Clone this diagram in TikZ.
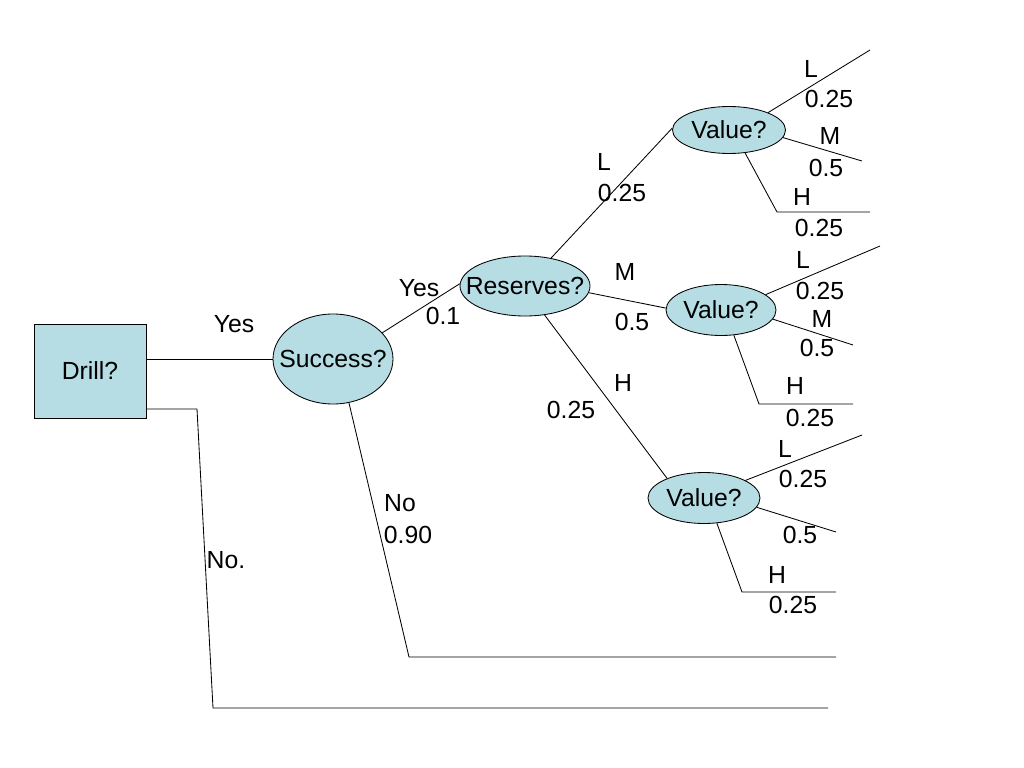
\documentclass[tikz,border=0pt]{standalone}
\usepackage{fontspec}
\setmainfont{Liberation Sans}
\usetikzlibrary{shapes.geometric}
\definecolor{nodefill}{RGB}{182,221,227}

\begin{document}
\begin{tikzpicture}[x=0.025cm,y=-0.025cm,line width=0.6pt,font=\fontsize{17.6}{20}\selectfont]
\tikzstyle{d}=[rectangle,draw,fill=nodefill,minimum width=112*0.025cm,minimum height=94*0.025cm,inner sep=0]
\tikzstyle{c}=[ellipse,draw,fill=nodefill,inner sep=0]
\tikzstyle{t}=[inner sep=0]
\useasboundingbox (0,0) rectangle (1024,768);

    \node[d] (drill) at (90,371){Drill?};
    \node[c, minimum width=120*0.025cm, minimum height=90*0.025cm] (succ) at (333,359){\makebox[0pt]{Success?}};
    \node[c, minimum width=130*0.025cm, minimum height=60*0.025cm] (res) at (525,286){\makebox[0pt]{Reserves?}};
    \node[c, minimum width=113*0.025cm, minimum height=47*0.025cm] (v1) at (729,130){\makebox[0pt]{Value?}};
    \node[c, minimum width=110*0.025cm, minimum height=51*0.025cm] (v2) at (721,310){\makebox[0pt]{Value?}};
    \node[c, minimum width=112*0.025cm, minimum height=51*0.025cm] (v3) at (704,498){\makebox[0pt]{Value?}};

    % free ends
    \coordinate (d1) at (197,409);
    \coordinate (d2) at (213,708);
    \coordinate (d3) at (828,708);
    \coordinate (s1) at (409,657);
    \coordinate (s2) at (836,657);
    \coordinate (v1L) at (870,50);
    \coordinate (v1M) at (862,161);
    \coordinate (v1H) at (777,212);
    \coordinate (v1E) at (870,212);
    \coordinate (v2L) at (880,246);
    \coordinate (v2M) at (853,345);
    \coordinate (v2H) at (759,404);
    \coordinate (v2E) at (853,404);
    \coordinate (v3L) at (862,435);
    \coordinate (v3M) at (836,532);
    \coordinate (v3H) at (742,592);
    \coordinate (v3E) at (836,592);

    \draw (succ.west -| drill.east) -- (succ.west);
    \draw (d1 -| drill.east) -- (d1) -- (d2) -- (d3);
    \draw (succ.290) -- (s1) -- (s2);
    \draw (succ.28) -- (res.178);
    \draw (res.47) -- (v1.178);
    \draw (res.354) -- (v2.178);
    \draw (res.304) -- (v3.152);

    \draw (v1.24) -- (v1L);
    \draw (v1.352) -- (v1M);
    \draw (v1.305) -- (v1H) -- (v1E);
    \draw (v2.19) -- (v2L);
    \draw (v2.350) -- (v2M);
    \draw (v2.297) -- (v2H) -- (v2E);
    \draw (v3.23) -- (v3L);
    \draw (v3.350) -- (v3M);
    \draw (v3.297) -- (v3H) -- (v3E);

    % labels
    \node[t] (yes1) at (234,324){Yes};
    \node[t] (no1) at (226,560){No.};
    \node[t] (no2) at (400,503){No};
    \node[t] (pno2) at (408,535){0.90};
    \node[t] (yes2) at (419,288){Yes};
    \node[t] (pyes2) at (443,316){0.1};
    \node[t] (rL) at (604,162){L};
    \node[t] (prL) at (622,193){0.25};
    \node[t] (rM) at (625,272){M};
    \node[t] (prM) at (632,322){0.5};
    \node[t] (rH) at (623,383){H};
    \node[t] (prH) at (571,410){0.25};

    \node[t] (aL) at (811,69){L};
    \node[t] (paL) at (829,99){0.25};
    \node[t] (aM) at (830,136){M};
    \node[t] (paM) at (826,168){0.5};
    \node[t] (aH) at (802,197){H};
    \node[t] (paH) at (819,228){0.25};

    \node[t] (bL) at (803,260){L};
    \node[t] (pbL) at (820,291){0.25};
    \node[t] (bM) at (822,319){M};
    \node[t] (pbM) at (817,348){0.5};
    \node[t] (bH) at (795,386){H};
    \node[t] (pbH) at (810,418){0.25};

    \node[t] (cL) at (785,449){L};
    \node[t] (pcL) at (803,479){0.25};
    \node[t] (pcM) at (800,535){0.5};
    \node[t] (cH) at (777,575){H};
    \node[t] (pcH) at (793,605){0.25};

\end{tikzpicture}
\end{document}
